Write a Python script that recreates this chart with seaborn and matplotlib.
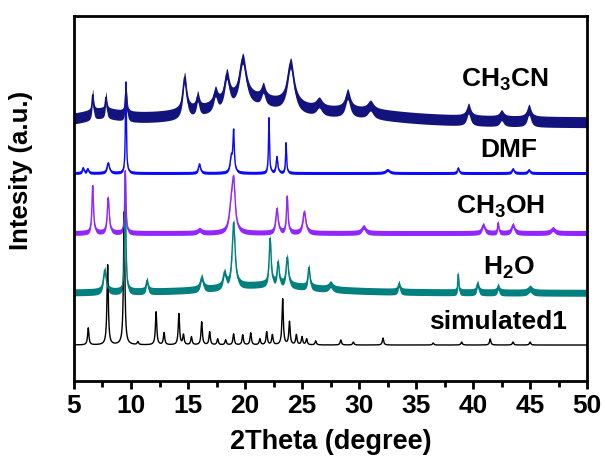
import numpy as np
import pandas as pd
import matplotlib
matplotlib.use("Agg")
import matplotlib.pyplot as plt
from matplotlib.ticker import MultipleLocator
import seaborn as sns

sns.set_style("white")
plt.rcParams['font.family'] = ['Liberation Sans', 'DejaVu Sans']
plt.rcParams['font.weight'] = 'bold'
plt.rcParams['text.color'] = 'black'
plt.rcParams['axes.labelcolor'] = 'black'
plt.rcParams['xtick.color'] = 'black'
plt.rcParams['ytick.color'] = 'black'
plt.rcParams['mathtext.fontset'] = 'custom'
plt.rcParams['mathtext.rm'] = 'Liberation Sans:bold'
plt.rcParams['mathtext.bf'] = 'Liberation Sans:bold'
plt.rcParams['mathtext.it'] = 'Liberation Sans:bold'

# ---- data, intensities in arbitrary units ----
series_names = ["simulated1", "H2O", "CH3OH", "DMF", "CH3CN"]
series_labels = ["simulated1", r"H$_2$O", r"CH$_3$OH", "DMF", r"CH$_3$CN"]
series_colors = ["#000000", "#00807f", "#9126ff", "#0a0aff", "#13137d"]
baselines = [36, 88, 148, 208, 258]
noise_amp = [0.0, 3.5, 2.5, 1.5, 5.5]

# broad humps: (position, height, half width)
humps = {
    "simulated1": [],
    "H2O": [(22.0, 8, 5.0)],
    "CH3OH": [],
    "DMF": [],
    "CH3CN": [(7.5, 7, 2.0), (20.5, 20, 4.5), (30.0, 6, 5.0)],
}

# peaks: positions, heights, half widths
sim_pos = [6.25, 7.95, 9.4, 10.6, 12.2, 12.9, 14.2, 14.6, 15.3, 16.2, 16.9, 17.6, 18.3, 19.0, 19.8,
           20.5, 21.3, 21.9, 22.4, 23.3, 23.9, 24.5, 25.0, 25.4, 26.2, 28.4, 29.5, 32.1, 36.5, 39.0,
           41.5, 43.5, 45.0]
sim_h = [17, 80, 133, 3, 33, 12, 31, 10, 8, 23, 13, 6, 5, 11, 10,
         12, 6, 13, 10, 46, 23, 10, 8, 6, 4, 5, 3, 7, 2, 3,
         6, 3, 3]

h2o_pos = [7.7, 9.5, 11.4, 16.2, 18.2, 19.0, 22.2, 22.9, 23.7, 25.6, 27.5, 33.5, 38.7, 40.4, 42.2, 45.0]
h2o_h = [22, 118, 11, 12, 14, 64, 46, 22, 28, 20, 5, 8, 18, 9, 6, 4]
h2o_w = [0.15, 0.06, 0.1, 0.15, 0.15, 0.15, 0.1, 0.1, 0.12, 0.1, 0.2, 0.1, 0.05, 0.1, 0.1, 0.2]

meoh_pos = [6.64, 8.0, 9.5, 16.0, 18.8, 19.0, 22.8, 23.7, 25.2, 30.4, 40.9, 42.2, 43.5, 47.0]
meoh_h = [47, 35, 62, 3, 25, 44, 24, 36, 21, 6, 8, 10, 8, 4]
meoh_w = [0.08, 0.1, 0.06, 0.2, 0.2, 0.15, 0.12, 0.08, 0.15, 0.2, 0.15, 0.06, 0.15, 0.2]

dmf_pos = [5.8, 6.2, 8.0, 9.55, 16.0, 18.8, 19.0, 22.1, 22.8, 23.6, 32.5, 38.7, 43.5, 44.9]
dmf_h = [5, 4, 10, 91, 9, 15, 40, 55, 16, 30, 3, 5, 4, 3]
dmf_w = [0.08, 0.08, 0.12, 0.05, 0.1, 0.12, 0.07, 0.05, 0.08, 0.05, 0.2, 0.08, 0.1, 0.1]

mecn_pos = [6.64, 7.8, 9.56, 14.7, 15.85, 17.4, 18.4, 19.8, 21.6, 24.0, 26.5, 29.0, 31.0, 39.6, 42.5, 44.9]
mecn_h = [20, 16, 28, 36, 14, 14, 28, 42, 12, 44, 8, 18, 8, 12, 6, 12]
mecn_w = [0.08, 0.08, 0.08, 0.2, 0.15, 0.2, 0.25, 0.35, 0.2, 0.35, 0.3, 0.25, 0.3, 0.2, 0.2, 0.2]

peaks = {
    "simulated1": (sim_pos, sim_h, [0.07] * len(sim_pos)),
    "H2O": (h2o_pos, h2o_h, h2o_w),
    "CH3OH": (meoh_pos, meoh_h, meoh_w),
    "DMF": (dmf_pos, dmf_h, dmf_w),
    "CH3CN": (mecn_pos, mecn_h, mecn_w),
}

label_x = [42.2, 43.1, 42.4, 43.1, 42.8]
label_y = [59, 113, 174, 231, 301]
x_ticks = [5, 10, 15, 20, 25, 30, 35, 40, 45, 50]

# ---- build profiles from the peak lists ----
two_theta = np.arange(5.0, 50.0001, 0.01)
rows = []
for name, base in zip(series_names, baselines):
    y = np.full_like(two_theta, float(base))
    for p, h, w in humps[name]:
        y += h / (1 + ((two_theta - p) / w) ** 2)
    pos, hts, wds = peaks[name]
    for p, h, w in zip(pos, hts, wds):
        y += h / (1 + ((two_theta - p) / w) ** 2)
    rows.append(pd.DataFrame({"2theta": two_theta, "I": y, "sample": name}))
df = pd.concat(rows, ignore_index=True)

fig = plt.figure(figsize=(6.04, 4.65), dpi=100)
ax = fig.add_axes([0.1225, 0.1806, 0.8495, 0.785])

for name, col, amp in zip(series_names, series_colors, noise_amp):
    d = df[df["sample"] == name]
    if amp > 0:
        ax.fill_between(d["2theta"], d["I"] - amp, d["I"] + amp, color=col, alpha=1.0, lw=0)
sns.lineplot(data=df, x="2theta", y="I", hue="sample", hue_order=series_names,
             palette=series_colors, legend=False, ax=ax, linewidth=1.0, estimator=None)

for lab, lx, ly in zip(series_labels, label_x, label_y):
    ax.text(lx, ly, lab, ha="center", va="center", fontsize=19, fontweight="bold", color="black")

ax.set_xlim(5, 50)
ax.set_ylim(0, 365)
ax.set_xticks(x_ticks)
ax.xaxis.set_minor_locator(MultipleLocator(2.5))
ax.set_yticks([])
ax.tick_params(axis="x", which="major", direction="out", length=6, width=2, labelsize=19, pad=3,
               bottom=True, colors="black")
ax.tick_params(axis="x", which="minor", direction="out", length=4, width=2, bottom=True, colors="black")
for lbl in ax.get_xticklabels():
    lbl.set_fontweight("bold")
for s in ax.spines.values():
    s.set_linewidth(2)
    s.set_color("black")
ax.set_xlabel("2Theta (degree)", fontsize=19.5, fontweight="bold", labelpad=8, color="black")
ax.set_ylabel("Intesity (a.u.)", fontsize=18.5, fontweight="bold", color="black")
ax.yaxis.set_label_coords(-0.08, 0.578)

fig.savefig("out.png", dpi=100)
